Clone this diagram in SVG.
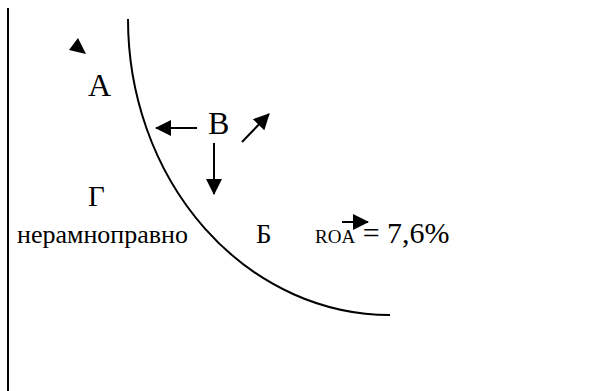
<svg xmlns="http://www.w3.org/2000/svg" width="600" height="391" viewBox="0 0 600 391">
<style>
text{font-family:'Liberation Serif','Times New Roman',serif;fill:#000}
.ln{stroke:#000;stroke-width:2;fill:none}
</style>
<defs>
<marker id="ah" markerWidth="8" markerHeight="8" refX="7.5" refY="4" orient="auto" markerUnits="strokeWidth">
<path d="M0,0 L8,4 L0,8 Z" fill="#000"/>
</marker>
</defs>
<rect width="600" height="391" fill="#fff"/>
<g id="axis"><line class="ln" x1="8" y1="8" x2="8" y2="391"/></g>
<g id="curve"><path class="ln" d="M128,19 A262,296 0 0,0 390,315"/></g>
<g id="node-A"><text x="88" y="96" font-size="32">А</text></g>
<g id="node-V"><text x="208" y="134" font-size="32">В</text></g>
<g id="node-G"><text x="88" y="206" font-size="29">Г</text></g>
<g id="label-neravnopravno"><text x="17" y="243" font-size="26">нерамноправно</text></g>
<g id="node-B"><text x="256" y="243" font-size="27">Б</text></g>
<g id="roa"><text x="315" y="243"><tspan font-size="19">ROA</tspan><tspan font-size="30"> = 7,6%</tspan></text></g>
<g id="connectors">
<line class="ln" x1="197" y1="128" x2="156" y2="128" marker-end="url(#ah)"/>
<line class="ln" x1="214" y1="143" x2="214" y2="194" marker-end="url(#ah)"/>
<line class="ln" x1="242" y1="142" x2="269" y2="114" marker-end="url(#ah)"/>
<line class="ln" x1="342" y1="222" x2="368" y2="222" marker-end="url(#ah)"/>
<polygon points="78,38 69,50 86,54" fill="#000"/>
</g>
</svg>
